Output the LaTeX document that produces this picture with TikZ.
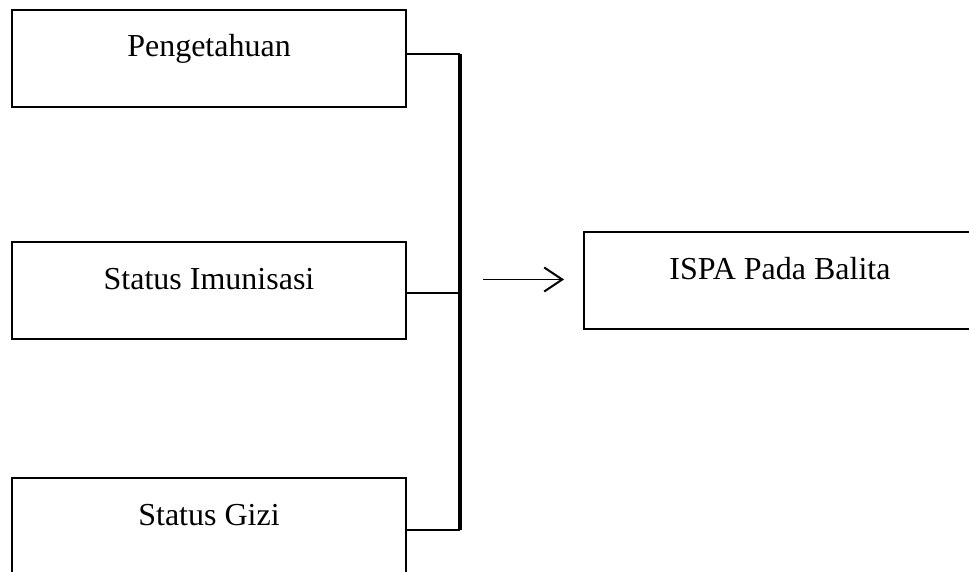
\documentclass[tikz,border=0pt]{standalone}
\usepackage{fontspec}
\setmainfont{Liberation Serif}
\usetikzlibrary{arrows.meta}
\begin{document}
\begin{tikzpicture}[x=1pt,y=-1pt,
  box/.style={draw=black,line width=2pt,inner sep=0pt,minimum width=#1,
    text height=47pt,text depth=50pt,anchor=north west,
    font=\fontsize{32}{38}\selectfont},
  link/.style={draw=black,line width=2pt},
  bar/.style={draw=black,line width=4.5pt},
  arr/.style={draw=black,line width=1.8pt,-{Straight Barb[length=18pt,width=24pt,line width=2pt]}}]
\useasboundingbox (0,0) rectangle (969,572);
\node[box=394pt] (b1) at (11,9) {Pengetahuan};
\node[box=394pt] (b2) at (11,241) {Status Imunisasi};
\node[box=394pt] (b3) at (11,477) {Status Gizi};
\node[box=392pt] (isp) at (583,231) {ISPA Pada Balita};
\coordinate (bt) at (460,54);
\draw[link] ([yshift=4pt]b1.east) -- ([yshift=4pt]b1.east -| bt);
\draw[link] ([yshift=-2pt]b2.east) -- ([yshift=-2pt]b2.east -| bt);
\draw[link] ([yshift=-3pt]b3.east) -- ([yshift=-3pt]b3.east -| bt);
\draw[bar] ([yshift=4pt]b1.east -| bt) -- ([yshift=-3pt]b3.east -| bt);
\coordinate (a0) at ([xshift=-100pt,yshift=1pt]isp.west);
\draw[arr] (a0) -- ([xshift=-19pt,yshift=1pt]isp.west);
\end{tikzpicture}
\end{document}
